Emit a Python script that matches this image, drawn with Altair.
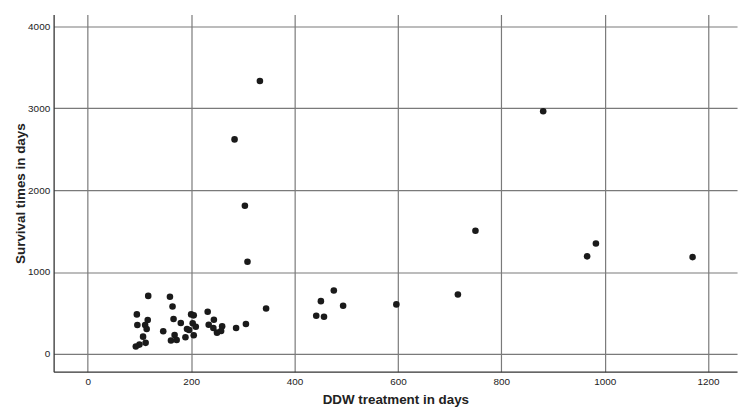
import altair as alt
import pandas as pd

ddw_days = [
    117, 159, 164, 95, 166, 116, 96, 111, 180, 200, 205, 114, 146, 203,
    192, 196, 209, 107, 168, 205, 189, 161, 172, 112, 100, 93,
    345, 232, 244, 234, 243, 260, 258, 250, 287, 306,
    476, 451, 494, 442, 457, 597, 716,
    750, 983, 966, 1170,
    881,
    333, 284, 304, 309,
]
survival_days = [
    708, 697, 579, 482, 425, 413, 352, 352, 377, 482, 470, 304, 276, 373,
    304, 292, 332, 210, 231, 227, 203, 162, 170, 134, 113, 89,
    555, 514, 417, 356, 316, 336, 279, 259, 316, 365,
    774, 644, 587, 466, 453, 604, 725,
    1503, 1349, 1191, 1182,
    2965,
    3333, 2620, 1810, 1126,
]
x_ticks = [0, 200, 400, 600, 800, 1000, 1200]
y_ticks = [0, 1000, 2000, 3000, 4000]

df = pd.DataFrame({"ddw": ddw_days, "survival": survival_days})

FONT = "Liberation Sans"

chart = alt.Chart(df).mark_point(
    filled=True, size=44, color="#1a1a1a", opacity=1
).encode(
    x=alt.X(
        "ddw:Q",
        scale=alt.Scale(domain=[-66, 1256], nice=False, zero=False),
        axis=alt.Axis(
            values=x_ticks,
            format="d",
            title="DDW treatment in days",
            labelFontSize=10,
            titleFontSize=13.5,
            titleFontWeight="bold",
            labelPadding=5,
            titlePadding=6,
            tickSize=0,
            grid=True,
        ),
    ),
    y=alt.Y(
        "survival:Q",
        scale=alt.Scale(domain=[-218, 4145], nice=False, zero=False),
        axis=alt.Axis(
            values=y_ticks,
            format="d",
            title="Survival times in days",
            labelFontSize=10,
            titleFontSize=13.5,
            titleFontWeight="bold",
            labelPadding=4,
            titlePadding=0,
            tickSize=0,
            grid=True,
        ),
    ),
).properties(
    width=689,
    height=360,
).configure_view(
    stroke=None
).configure_axis(
    labelFont=FONT,
    titleFont=FONT,
    labelColor="#222222",
    titleColor="#222222",
    gridColor="#7a7a7a",
    gridWidth=1.2,
    gridOpacity=1,
    domainColor="#333333",
    domainWidth=1.3,
)

chart.save("out.html", embed_options={"renderer": "svg", "actions": False})
